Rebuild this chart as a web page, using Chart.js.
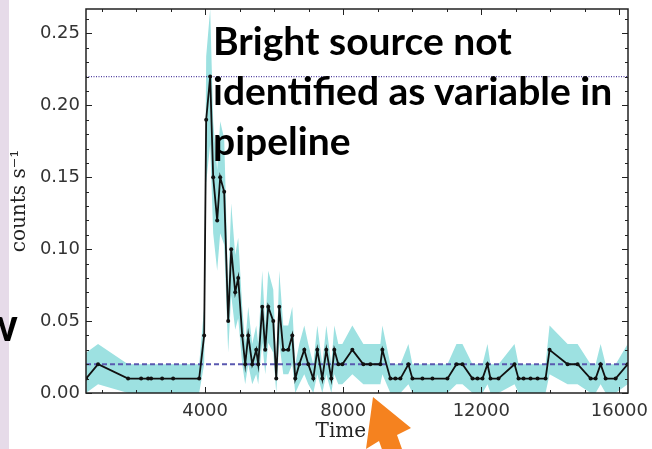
<!DOCTYPE html>
<html>
<head>
<meta charset="utf-8">
<script src="https://cdn.jsdelivr.net/npm/chart.js@4.4.1/dist/chart.umd.min.js"></script>
<style>
  body { margin: 0; width: 652px; height: 449px; overflow: hidden; background: #fff; position: relative; }
  #strip { position: absolute; left: 0; top: 0; width: 9px; height: 449px; background: #e6dbe9; }
  #lc { position: absolute; left: 0; top: 0; }
  #note { position: absolute; left: 213px; top: 15px; font: bold 39px Lato, sans-serif; line-height: 50px; color: #000; white-space: nowrap; }
  #cut { position: absolute; left: -19px; top: 301px; font: bold 46px Lato, sans-serif; line-height: 46px; color: #000; }
  #arrow { position: absolute; left: 0; top: 0; }
</style>
</head>
<body>
<div id="strip"></div>
<canvas id="lc" width="652" height="449"></canvas>
<div id="cut">w</div>
<div id="note">Bright source not<br>identified as variable in<br>pipeline</div>
<svg id="arrow" width="652" height="449">
  <polygon points="373,397 411,428 397,435 407,463 389,469 379,441 366,449" fill="#f5821f"/>
</svg>
<script>
// light curve
const times = [551, 899, 1769, 2146, 2349, 2436, 2755, 3074, 3828, 3973,
  4031, 4147, 4234, 4350, 4437, 4553, 4669, 4756, 4872, 4959,
  5075, 5162, 5249, 5365, 5481, 5539, 5655, 5742, 5829, 5974,
  6061, 6148, 6264, 6409, 6525, 6612, 6728, 6873, 6989, 7134,
  7250, 7395, 7511, 7656, 7743, 7859, 7975, 8265, 8584, 8787,
  9077, 9135, 9367, 9512, 9657, 9889, 10005, 10295, 10585, 11020,
  11281, 11455, 11745, 11890, 12035, 12180, 12267, 12499, 12963, 13079,
  13224, 13427, 13630, 13862, 13978, 14500, 14790, 15167, 15312, 15457,
  15602, 15892, 16240];
const rates = [0.01, 0.02, 0.01, 0.01, 0.01, 0.01, 0.01, 0.01, 0.01, 0.04,
  0.19, 0.22, 0.15, 0.12, 0.15, 0.14, 0.05, 0.10, 0.07, 0.08,
  0.04, 0.02, 0.04, 0.02, 0.03, 0.02, 0.06, 0.03, 0.06, 0.05,
  0.01, 0.06, 0.03, 0.03, 0.04, 0.01, 0.02, 0.03, 0.02, 0.01,
  0.03, 0.01, 0.03, 0.01, 0.03, 0.02, 0.02, 0.03, 0.02, 0.02,
  0.02, 0.03, 0.01, 0.01, 0.01, 0.02, 0.01, 0.01, 0.01, 0.01,
  0.02, 0.02, 0.01, 0.01, 0.01, 0.02, 0.01, 0.01, 0.02, 0.01,
  0.01, 0.01, 0.01, 0.01, 0.03, 0.02, 0.02, 0.01, 0.01, 0.02,
  0.01, 0.01, 0.02];
const errs = [0.018, 0.014, 0.010, 0.010, 0.010, 0.010, 0.010, 0.010, 0.010, 0.020,
  0.044, 0.047, 0.039, 0.035, 0.039, 0.037, 0.022, 0.032, 0.026, 0.028,
  0.020, 0.014, 0.020, 0.014, 0.017, 0.014, 0.025, 0.017, 0.025, 0.022,
  0.010, 0.025, 0.017, 0.017, 0.020, 0.010, 0.014, 0.017, 0.014, 0.010,
  0.017, 0.010, 0.017, 0.010, 0.017, 0.014, 0.014, 0.017, 0.014, 0.014,
  0.014, 0.017, 0.010, 0.010, 0.010, 0.014, 0.010, 0.010, 0.010, 0.010,
  0.014, 0.014, 0.010, 0.010, 0.010, 0.014, 0.010, 0.010, 0.014, 0.010,
  0.010, 0.010, 0.010, 0.010, 0.017, 0.014, 0.014, 0.010, 0.010, 0.014,
  0.010, 0.010, 0.014];

const xTicks = [4000, 8000, 12000, 16000];
const yTicks = [0, 0.05, 0.10, 0.15, 0.20, 0.25];
const xRange = [550, 16250];
const yRange = [0, 0.267];
const upperLevel = 0.22;   // dotted line
const meanLevel = 0.02;    // dashed line

const line = times.map((t, i) => ({ x: t, y: rates[i] }));
const hi = times.map((t, i) => ({ x: t, y: rates[i] + errs[i] }));
const lo = times.map((t, i) => ({ x: t, y: Math.max(0, rates[i] - errs[i]) }));
const flat = v => [{ x: xRange[0], y: v }, { x: xRange[1], y: v }];

// frame + inward ticks on all four sides, like the matplotlib original
const frameTicks = {
  id: 'frameTicks',
  afterDatasetsDraw(chart) {
    const { ctx, chartArea: a, scales: { x, y } } = chart;
    ctx.save();
    ctx.strokeStyle = '#222';
    ctx.lineWidth = 1;
    ctx.beginPath();
    for (let t = 1000; t < xRange[1]; t += 1000) {
      if (t < xRange[0]) continue;
      const px = Math.round(x.getPixelForValue(t)) + 0.5;
      const len = t % 4000 === 0 ? 6 : 3;
      ctx.moveTo(px, a.bottom); ctx.lineTo(px, a.bottom - len);
      ctx.moveTo(px, a.top); ctx.lineTo(px, a.top + len);
    }
    for (let k = 0; k <= 26; k++) {
      const py = Math.round(y.getPixelForValue(k / 100)) + 0.5;
      const len = k % 5 === 0 ? 6 : 3;
      ctx.moveTo(a.left, py); ctx.lineTo(a.left + len, py);
      ctx.moveTo(a.right, py); ctx.lineTo(a.right - len, py);
    }
    ctx.stroke();
    ctx.lineWidth = 1.5;
    ctx.strokeRect(a.left, a.top, a.right - a.left, a.bottom - a.top);
    ctx.restore();
  }
};

new Chart(document.getElementById('lc'), {
  type: 'line',
  data: {
    datasets: [
      { data: line, borderColor: '#111', borderWidth: 1.8, pointRadius: 2, pointBackgroundColor: '#111',
        pointBorderWidth: 0, tension: 0, order: 0, clip: 0 },
      { data: flat(upperLevel), borderColor: '#5040a0', borderWidth: 1.2, borderDash: [1, 1.5],
        pointRadius: 0, order: 1 },
      { data: flat(meanLevel), borderColor: '#5a58b0', borderWidth: 2, borderDash: [5, 3],
        pointRadius: 0, order: 1 },
      { data: hi, borderWidth: 0, pointRadius: 0, fill: '+1', backgroundColor: '#9de1e1', order: 2, clip: 0 },
      { data: lo, borderWidth: 0, pointRadius: 0, fill: false, order: 3, clip: 0 }
    ]
  },
  options: {
    responsive: false,
    animation: false,
    layout: { padding: { top: 9, right: 24, left: 0, bottom: 0 } },
    plugins: { legend: { display: false }, tooltip: { enabled: false } },
    scales: {
      x: {
        type: 'linear', min: xRange[0], max: xRange[1],
        afterBuildTicks: s => { s.ticks = xTicks.map(v => ({ value: v })); },
        afterFit: s => { s.height = 56; s.paddingLeft = 0; s.paddingRight = 0; },
        grid: { display: false, drawTicks: false },
        border: { display: false },
        ticks: { padding: 8, color: '#333', maxRotation: 0, autoSkip: false,
          font: { family: 'DejaVu Sans', size: 18 }, callback: v => String(v) },
        title: { display: true, text: 'Time (s)', color: '#222',
          font: { family: 'DejaVu Serif', size: 20 }, padding: { top: 0, bottom: 5 } }
      },
      y: {
        min: yRange[0], max: yRange[1],
        afterBuildTicks: s => { s.ticks = yTicks.map(v => ({ value: v })); },
        afterFit: s => { s.width = 86; s.paddingTop = 0; s.paddingBottom = 0; },
        grid: { display: false, drawTicks: false },
        border: { display: false },
        ticks: { padding: 6, color: '#333', font: { family: 'DejaVu Sans', size: 18 },
          callback: v => v.toFixed(2) },
        title: { display: true, text: 'counts s⁻¹', color: '#222',
          font: { family: 'DejaVu Serif', size: 20 }, padding: { top: 8, bottom: 0 } }
      }
    }
  },
  plugins: [frameTicks]
});
</script>
</body>
</html>
